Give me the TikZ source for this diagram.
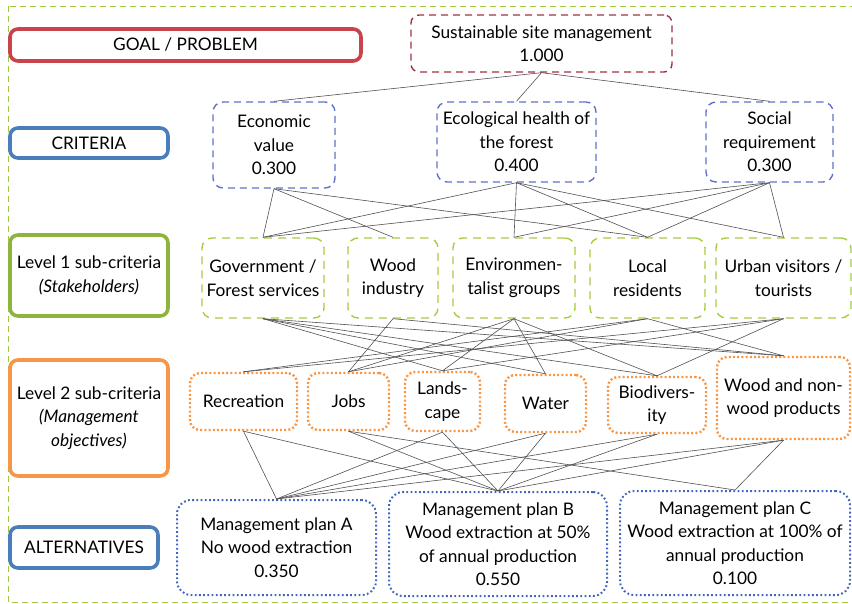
\documentclass[tikz,border=0pt]{standalone}
\usepackage{fontspec}
\setmainfont{Lato}
\definecolor{cred}{HTML}{C8434B}
\definecolor{cdred}{HTML}{9E3342}
\definecolor{cblue}{HTML}{4A7EBB}
\definecolor{clav}{HTML}{5F72C4}
\definecolor{cgreen}{HTML}{8DB43E}
\definecolor{clime}{HTML}{A6CC42}
\definecolor{corange}{HTML}{F79646}
\definecolor{cdblue}{HTML}{4066BE}
\definecolor{cline}{HTML}{505050}
\begin{document}
\begin{tikzpicture}[x=1pt,y=-1pt,
  every node/.style={font=\fontsize{17.3}{23.5}\selectfont, align=center, inner sep=0pt},
  lvlbox/.style={draw, line width=3.6pt, rounded corners=8pt},
  goalbox/.style={draw=cdred, line width=1.4pt, dash pattern=on 7pt off 5pt, rounded corners=8pt},
  critbox/.style={draw=clav, line width=1.4pt, dash pattern=on 7pt off 5pt, rounded corners=10pt},
  stakebox/.style={draw=clime, line width=1.4pt, dash pattern=on 8pt off 6pt, rounded corners=10pt},
  objbox/.style={draw=corange, line width=2.4pt, dash pattern=on 2pt off 2.2pt, rounded corners=10pt},
  altbox/.style={draw=cdblue, line width=2pt, dash pattern=on 1.8pt off 2.4pt, rounded corners=14pt},
  link/.style={draw=cline, line width=0.6pt}]
\useasboundingbox (0,0) rectangle (852,604);
% outer frame
\draw[clime!80!cgreen, line width=0.9pt, dash pattern=on 6pt off 4pt] (8,6) rectangle (856,602);
% level labels
\node[lvlbox, draw=cred, minimum width=351, minimum height=32] (Lgoal) at (185.5,45) {GOAL / PROBLEM};
\node[lvlbox, draw=cblue, minimum width=158, minimum height=30] (Lcrit) at (89,143) {CRITERIA};
\node[lvlbox, draw=cgreen, minimum width=158, minimum height=81] (Lone) at (89,275.5) {Level 1 sub-criteria\\\textit{(Stakeholders)}};
\node[lvlbox, draw=corange, minimum width=158, minimum height=116] (Ltwo) at (89,418) {Level 2 sub-criteria\\\textit{(Management}\\\textit{objectives)}};
\node[lvlbox, draw=cblue, minimum width=148, minimum height=41] (Lalt) at (84,547.5) {ALTERNATIVES};
% goal
\node[goalbox, minimum width=261, minimum height=57] (goal) at (541.5,43.5) {Sustainable site management\\1.000};
% criteria
\node[critbox, minimum width=122, minimum height=86] (econ) at (274,145) {Economic\\value\\0.300};
\node[critbox, minimum width=159, minimum height=80] (eco) at (516.5,142) {Ecological health of\\the forest\\0.400};
\node[critbox, minimum width=127, minimum height=80] (soc) at (769.5,142) {Social\\requirement\\0.300};
% stakeholders
\node[stakebox, minimum width=122, minimum height=80] (gov) at (263,278) {Government /\\Forest services};
\node[stakebox, minimum width=90, minimum height=80] (wood) at (393,278) {Wood\\industry};
\node[stakebox, minimum width=122, minimum height=80] (env) at (514,278) {Environmen-\\talist groups};
\node[stakebox, minimum width=115, minimum height=80] (local) at (647.5,278) {Local\\residents};
\node[stakebox, minimum width=135, minimum height=80] (urban) at (783.5,278) {Urban visitors /\\tourists};
% objectives
\node[objbox, minimum width=107, minimum height=57] (rec) at (243.5,401.5) {Recreation};
\node[objbox, minimum width=81, minimum height=57] (jobs) at (348.5,401.5) {Jobs};
\node[objbox, minimum width=75, minimum height=59] (land) at (442.5,401.5) {Lands-\\cape};
\node[objbox, minimum width=81, minimum height=57] (water) at (545.5,403.5) {Water};
\node[objbox, minimum width=98, minimum height=56] (bio) at (657,405) {Biodivers-\\ity};
\node[objbox, minimum width=133, minimum height=82] (wprod) at (783.5,398) {Wood and non-\\wood products};
% alternatives
\node[altbox, minimum width=199, minimum height=95] (A) at (276.5,547.5) {Management plan A\\No wood extraction\\0.350};
\node[altbox, minimum width=218, minimum height=104] (B) at (498,544) {Management plan B\\Wood extraction at 50\%\\of annual production\\0.550};
\node[altbox, minimum width=230, minimum height=104] (C) at (735,543) {Management plan C\\Wood extraction at 100\% of\\annual production\\0.100};
% links goal -> criteria
\foreach \c in {econ,eco,soc} \draw[link] (goal.south) -- (\c.north);
% criteria -> stakeholders
\foreach \a/\b in {econ/gov,econ/wood,econ/local,eco/gov,eco/env,eco/local,eco/urban,soc/gov,soc/env,soc/local,soc/urban}
  \draw[link] (\a.south) -- (\b.north);
% stakeholders -> objectives
\foreach \a/\b in {gov/land,gov/water,gov/bio,gov/wprod,env/jobs,env/land,env/water,env/bio,local/rec,local/jobs,local/wprod,urban/rec,urban/land,urban/bio,wood/jobs,wood/wprod}
  \draw[link] (\a.south) -- (\b.north);
% objectives -> alternatives
\foreach \a/\b in {rec/A,rec/B,jobs/B,jobs/C,land/A,land/B,water/A,water/B,bio/A,bio/B,wprod/A,wprod/B,wprod/C}
  \draw[link] (\a.south) -- (\b.north);
\end{tikzpicture}
\end{document}
